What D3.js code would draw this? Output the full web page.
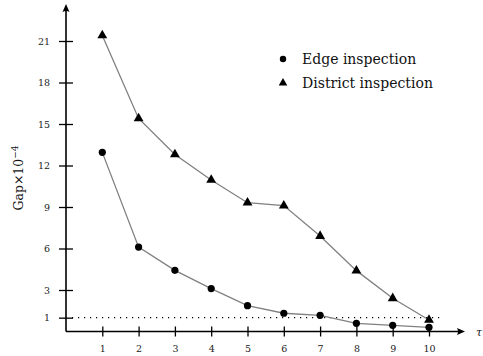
<!DOCTYPE html>
<html><head><meta charset="utf-8">
<script src="https://cdn.jsdelivr.net/npm/d3@7"></script>
<style>body{margin:0;background:#fff}svg{display:block}</style>
</head><body>
<script>
const taus = [1,2,3,4,5,6,7,8,9,10];
const edgeGap = [12.95,6.1,4.42,3.1,1.87,1.32,1.17,0.59,0.45,0.3];
const districtGap = [21.4,15.4,12.8,10.95,9.31,9.1,6.9,4.4,2.4,0.83];
const yTicks = [1,3,6,9,12,15,18,21];
const seriesNames = ["Edge inspection","District inspection"];
const thresholdValue = 1;

const W=483,H=356;
const svg=d3.select("body").append("svg").attr("width",W).attr("height",H);
const font="'DejaVu Serif', serif";
const x=d3.scaleLinear().domain([0,10]).range([66,429]);
const y=d3.scaleLinear().domain([0,21]).range([331.5,41]);

// axis lines with arrows
svg.append("line").attr("x1",x(0)).attr("x2",461).attr("y1",y(0)).attr("y2",y(0)).attr("stroke","#000").attr("stroke-width",1.6);
svg.append("line").attr("x1",x(0)).attr("x2",x(0)).attr("y1",y(0)).attr("y2",8).attr("stroke","#000").attr("stroke-width",1.6);
svg.append("path").attr("d",`M${465},${y(0)} L${457},${y(0)-3.5} Q${459},${y(0)} ${457},${y(0)+3.5} Z`).attr("fill","#000");
svg.append("path").attr("d",`M${x(0)},${4} L${x(0)-3.5},${12} Q${x(0)},${10} ${x(0)+3.5},${12} Z`).attr("fill","#000");

// x axis
const gx=svg.append("g").attr("transform",`translate(0,${y(0)})`)
  .call(d3.axisBottom(x).tickValues(taus).tickSize(5).tickPadding(9).tickFormat(d3.format("d")));
gx.select(".domain").remove();
gx.selectAll(".tick line").attr("y1",-5).attr("y2",5).attr("stroke-width",1.3);
gx.selectAll(".tick text").attr("font-family",font).attr("font-size",9.5).attr("fill","#222");

// y axis
const gy=svg.append("g").attr("transform",`translate(${x(0)},0)`)
  .call(d3.axisLeft(y).tickValues(yTicks).tickSize(7).tickPadding(9).tickFormat(d3.format("d")));
gy.select(".domain").remove();
gy.selectAll(".tick line").attr("x1",-7).attr("x2",7).attr("stroke-width",1.3);
gy.selectAll(".tick text").attr("font-family",font).attr("font-size",9.5).attr("fill","#222");

// threshold dotted line
svg.append("line").attr("x1",x(0)+6).attr("x2",441).attr("y1",y(thresholdValue)).attr("y2",y(thresholdValue))
  .attr("stroke","#000").attr("stroke-width",1.3).attr("stroke-dasharray","1.2,4.8");

// series
const line=d3.line().x((d,i)=>x(taus[i])).y(d=>y(d));
[edgeGap,districtGap].forEach(s=>{
  svg.append("path").attr("d",line(s)).attr("fill","none").attr("stroke","#808080").attr("stroke-width",1.3);
});
svg.selectAll("circle.e").data(edgeGap).enter().append("circle")
  .attr("cx",(d,i)=>x(taus[i])).attr("cy",d=>y(d)).attr("r",3.6).attr("fill","#000");
const tri=d3.symbol().type(d3.symbolTriangle).size(42);
svg.selectAll("path.t").data(districtGap).enter().append("path").attr("d",tri)
  .attr("transform",(d,i)=>`translate(${x(taus[i])},${y(d)})`).attr("fill","#000");

// legend
svg.append("circle").attr("cx",283).attr("cy",59).attr("r",3.2).attr("fill","#000");
svg.append("path").attr("d",d3.symbol().type(d3.symbolTriangle).size(32)).attr("transform","translate(283,83)").attr("fill","#000");
svg.append("text").attr("x",302).attr("y",63.5).text(seriesNames[0]).attr("font-family",font).attr("font-size",14).attr("fill","#111");
svg.append("text").attr("x",302).attr("y",88).text(seriesNames[1]).attr("font-family",font).attr("font-size",14).attr("fill","#111");

// labels
const yl=svg.append("text").attr("transform","translate(23,178) rotate(-90)").attr("text-anchor","middle")
  .attr("font-family",font).attr("font-size",12.5).attr("fill","#111");
yl.append("tspan").text("Gap×10");
yl.append("tspan").text("−4").attr("font-size",9).attr("dy",-5);
svg.append("text").attr("x",476).attr("y",336).text("τ").attr("font-family",font).attr("font-style","italic").attr("font-size",11).attr("fill","#111");
</script>
</body></html>
